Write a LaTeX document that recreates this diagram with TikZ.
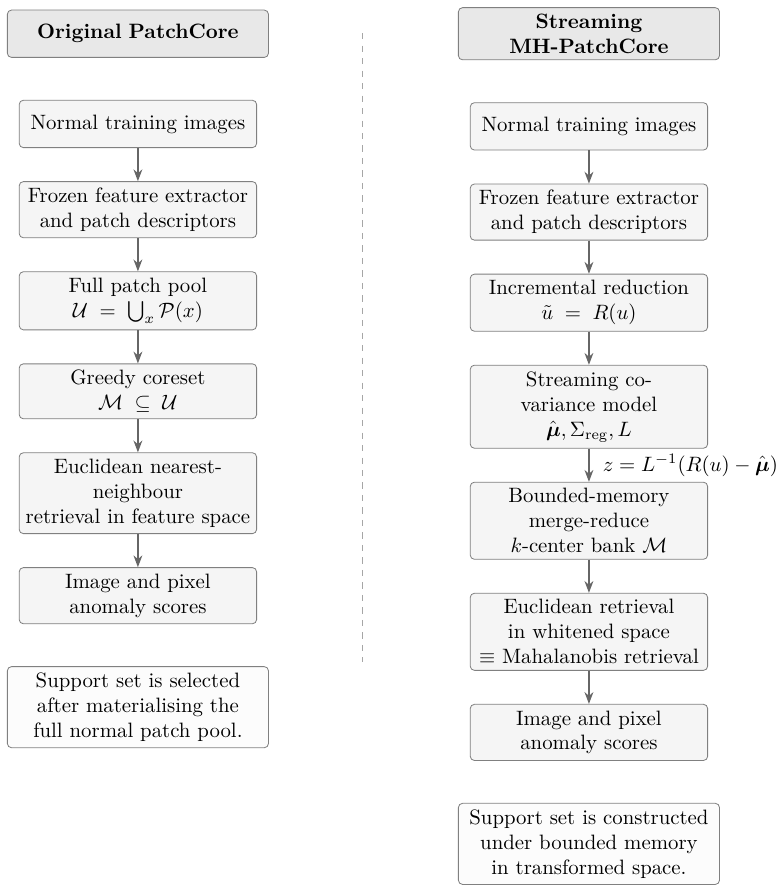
\documentclass[tikz,border=0pt]{standalone}
\usepackage{amsmath}
\usepackage{amssymb}
\usepackage{tikz}
\usetikzlibrary{positioning, arrows.meta}

\begin{document}
\begin{tikzpicture}[>=Stealth,
  node distance=0.56cm,
  titlebox/.style={draw=black!50, fill=black!9, rounded corners=2pt,
    font=\bfseries, text width=4.2cm, align=center, minimum height=0.8cm, inner sep=3pt},
  stepbox/.style={draw=black!50, fill=black!4, rounded corners=2pt,
    text width=3.8cm, align=center, minimum height=0.8cm, inner sep=3pt},
  notebox/.style={draw=black!50, fill=black!1, rounded corners=2pt,
    text width=4.2cm, align=center, inner sep=3pt},
  flow/.style={->, semithick, black!60}]

\useasboundingbox (0, 0) rectangle (13.19, -15.07);

% --- Separator ---
\draw[black!35, dashed] (6.13, -0.56) -- (6.13, -11.18);

% --- Left: original PatchCore ---
\node[titlebox] (ltitle) at (2.33, -0.57) {Original PatchCore};
\node[stepbox, below=0.71cm of ltitle] (limg) {Normal training images};
\node[stepbox, below=of limg] (lfeat)
  {Frozen feature extractor\\and patch descriptors};
\node[stepbox, below=of lfeat] (lpool)
  {Full patch pool\\\mbox{$\mathcal{U} \;=\; \bigcup_x \mathcal{P}(x)$}};
\node[stepbox, below=of lpool] (lcore)
  {Greedy coreset\\\mbox{$\mathcal{M} \;\subseteq\; \mathcal{U}$}};
\node[stepbox, below=of lcore] (lnn)
  {Euclidean nearest-\\neighbour\\retrieval in feature space};
\node[stepbox, below=of lnn] (lscore)
  {Image and pixel\\anomaly scores};
\node[notebox, below=0.71cm of lscore] (lnote)
  {Support set is selected\\after materialising the\\full normal patch pool.};

\draw[flow] (limg) -- (lfeat);
\draw[flow] (lfeat) -- (lpool);
\draw[flow] (lpool) -- (lcore);
\draw[flow] (lcore) -- (lnn);
\draw[flow] (lnn) -- (lscore);

% --- Right: streaming MH-PatchCore ---
\node[titlebox] (rtitle) at (9.95, -0.57) {Streaming\\MH-PatchCore};
\node[stepbox, below=0.71cm of rtitle] (rimg) {Normal training images};
\node[stepbox, below=of rimg] (rfeat)
  {Frozen feature extractor\\and patch descriptors};
\node[stepbox, below=of rfeat] (rred)
  {Incremental reduction\\\mbox{$\tilde{u} \;=\; R(u)$}};
\node[stepbox, below=of rred] (rcov)
  {Streaming co-\\variance model\\\mbox{$\hat{\boldsymbol{\mu}}, \Sigma_{\mathrm{reg}}, L$}};
\node[stepbox, below=of rcov] (rbank)
  {Bounded-memory\\merge-reduce\\$k$-center bank $\mathcal{M}$};
\node[stepbox, below=of rbank] (rret)
  {Euclidean retrieval\\in whitened space\\$\equiv$ Mahalanobis retrieval};
\node[stepbox, below=of rret] (rscore)
  {Image and pixel\\anomaly scores};
\node[notebox, below=0.71cm of rscore] (rnote)
  {Support set is constructed\\under bounded memory\\in transformed space.};

\draw[flow] (rimg) -- (rfeat);
\draw[flow] (rfeat) -- (rred);
\draw[flow] (rred) -- (rcov);
\draw[flow] (rcov) -- node[right, xshift=3pt, text=black]
  {$z = L^{-1}(R(u) - \hat{\boldsymbol{\mu}})$} (rbank);
\draw[flow] (rbank) -- (rret);
\draw[flow] (rret) -- (rscore);

\end{tikzpicture}
\end{document}
